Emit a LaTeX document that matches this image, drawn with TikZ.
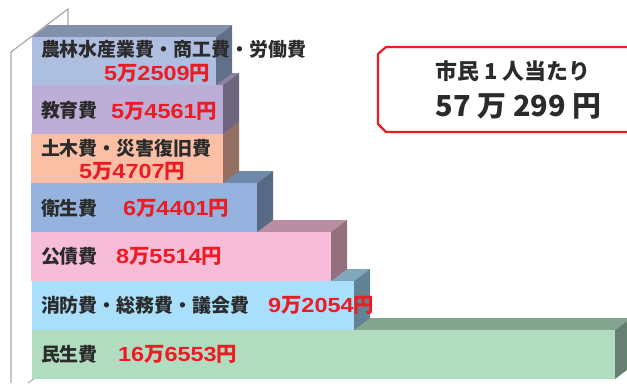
\documentclass[tikz,border=0pt]{standalone}
\usepackage{fontspec}
\setmainfont{Liberation Sans}
\newfontfamily\cjk{Noto Sans CJK JP}
\newfontfamily\valf[FakeStretch=1.15]{Liberation Sans}
\newfontfamily\valj{Noto Sans CJK JP}
\definecolor{redtxt}{HTML}{ED1C24}
\definecolor{darktxt}{HTML}{2B2B2B}
\definecolor{axisgray}{HTML}{A8A8A8}
\definecolor{fa}{HTML}{AEBEE0}\definecolor{ta}{HTML}{8290AC}\definecolor{sa}{HTML}{61718B}
\definecolor{fb}{HTML}{BCAED6}\definecolor{tb}{HTML}{8D83A1}\definecolor{sb}{HTML}{6E667F}
\definecolor{fc}{HTML}{FBBFA6}\definecolor{tc}{HTML}{BC8F7D}\definecolor{sc}{HTML}{937062}
\definecolor{fd}{HTML}{95B3DE}\definecolor{td}{HTML}{7088AA}\definecolor{sd}{HTML}{576A85}
\definecolor{fe}{HTML}{F7BDD8}\definecolor{te}{HTML}{B98EA2}\definecolor{se}{HTML}{94707F}
\definecolor{ff}{HTML}{A9DFFB}\definecolor{tf}{HTML}{7FA8BC}\definecolor{sf}{HTML}{628296}
\definecolor{fg}{HTML}{B2DCC0}\definecolor{tg}{HTML}{84A590}\definecolor{sg}{HTML}{677F70}
\newcommand{\barblock}[5]{% x1,y1,x2,y2,suffix
  \fill[t#5] (#1,#2) -- (#1+16,#2-12) -- (#3+16,#2-12) -- (#3,#2) -- cycle;
  \fill[s#5] (#3,#2) -- (#3+16,#2-12) -- (#3+16,#4-12) -- (#3,#4) -- cycle;
  \fill[f#5] (#1,#2) rectangle (#3,#4);
}
\newcommand{\jm}[1]{{\valj #1}}
\tikzset{
  lab/.style={anchor=base west,inner sep=0pt,outer sep=0pt,text=darktxt,font=\cjk\bfseries\fontsize{19}{22}\selectfont},
  val/.style={anchor=base west,inner sep=0pt,outer sep=0pt,text=redtxt,font=\valf\bfseries\fontsize{20.5}{22}\selectfont},
  big/.style={anchor=base,inner sep=0pt,outer sep=0pt,text=darktxt},
}
\begin{document}
\begin{tikzpicture}[x=1bp,y=-1bp]
\useasboundingbox (0,0) rectangle (627,383);
\clip (0,0) rectangle (627,383);
\draw[axisgray,line width=1.2bp] (11,383) -- (11,52) -- (68,9) -- (68,25);
\draw[axisgray,line width=1bp] (28,383) -- (35,378);
\barblock{32}{330}{615}{379}{g}
\barblock{32}{281}{354}{330}{f}
\barblock{31}{232}{331}{281}{e}
\barblock{31}{183}{257}{232}{d}
\barblock{31}{134}{223}{183}{c}
\barblock{32}{85}{223}{134}{b}
\barblock{32}{37}{216}{85}{a}
\node[lab] (l1) at (41,56.5) {農林水産業費・商工費・労働費};
\node[val] (v1) at (104,80) {5\jm{万}2509\jm{円}};
\node[lab] (l2) at (41,117) {教育費};
\node[val] (v2) at (111,118) {5\jm{万}4561\jm{円}};
\node[lab] (l3) at (41,155.5) {土木費・災害復旧費};
\node[val] (v3) at (79,178) {5\jm{万}4707\jm{円}};
\node[lab] (l4) at (41,215) {衛生費};
\node[val] (v4) at (123,215.5) {6\jm{万}4401\jm{円}};
\node[lab] (l5) at (41,263) {公債費};
\node[val] (v5) at (116,263) {8\jm{万}5514\jm{円}};
\node[lab] (l6) at (41,312) {消防費・総務費・議会費};
\node[val] (v6) at (268,312.5) {9\jm{万}2054\jm{円}};
\node[lab] (l7) at (41,361.5) {民生費};
\node[val] (v7) at (118,361) {16\jm{万}6553\jm{円}};
\draw[redtxt,line width=2.2bp,fill=white] (640,47) -- (386,47) -- (378,54) -- (378,124) -- (386,132) -- (640,132);
\node[big,font=\cjk\bfseries\fontsize{22}{26}\selectfont] (t1) at (513,79) {市民 1 人当たり};
\node[big,font=\cjk\bfseries\fontsize{29}{33}\selectfont] (t2) at (518.5,116) {57 万 299 円};
\end{tikzpicture}
\end{document}
